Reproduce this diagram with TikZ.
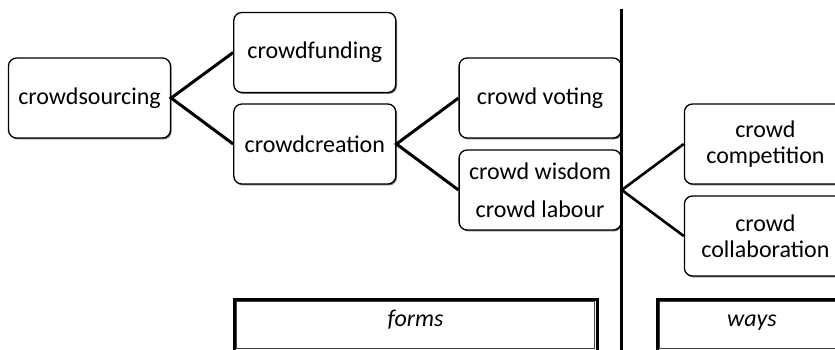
\documentclass[tikz,border=0pt]{standalone}
\usepackage{fontspec}
\setmainfont{Carlito}
\usetikzlibrary{positioning}
\usetikzlibrary{shadows}
\tikzset{x=1pt, y=1pt, font=\fontsize{24}{26}\selectfont}
\tikzstyle{form} = [draw, fill=white, rectangle, rounded corners=8pt, line width=1.3pt, minimum width=162pt, minimum height=80pt, text centered, align=center, inner sep=2pt, drop shadow={shadow xshift=1.2pt, shadow yshift=-1.4pt, fill=black!55, opacity=1}]
\tikzstyle{label} = [draw, fill=white, rectangle, line width=3pt, minimum height=52pt, text height=16pt, text depth=13pt, font=\fontsize{24}{26}\selectfont\itshape]
\tikzstyle{link} = [line width=3pt, line join=miter]

\begin{document}
\begin{tikzpicture}
		\useasboundingbox (0,0) rectangle (835,-349);
		\node [form] (sourcing) at (89.5,-98) {crowdsourcing};
		\node [form, right=62pt of sourcing, yshift=45.5pt] (funding) {crowdfunding};
		\node [form, right=62pt of sourcing, yshift=-46pt] (creation) {crowdcreation};
		\node [form, right=62pt of creation, yshift=46pt] (voting) {crowd voting};
		\node [form, right=62pt of creation, yshift=-46pt] (wisdom) {crowd wisdom\\[12pt]crowd labour};
		\node [form, right=62pt of wisdom, yshift=46pt] (competition) {crowd\\competition};
		\node [form, right=62pt of wisdom, yshift=-46pt] (collaboration) {crowd\\collaboration};

		\coordinate (divtop) at (621,-9);
		\coordinate (divbot) at (621,-352);
		\draw [line width=3pt] (divtop) -- (divbot);

		\node [label, minimum width=363pt] (forms) at (415.5,-325) {forms};
		\node [label, minimum width=190pt] (ways) at (752,-325) {ways};
		\draw [line width=0.9pt, black!75] ([shift={(4pt,-4pt)}]forms.north west) rectangle ([shift={(-4pt,4pt)}]forms.south east);
		\draw [line width=0.9pt, black!75] ([shift={(4pt,-4pt)}]ways.north west) rectangle ([shift={(-4pt,4pt)}]ways.south east);

		\draw [link] (funding.west) -- (sourcing.east) -- (creation.west);
		\draw [link] (voting.west) -- (creation.east) -- (wisdom.west);
		\draw [link, line width=2.6pt] (competition.west) -- (wisdom.east) -- (collaboration.west);
	\end{tikzpicture}
\end{document}
